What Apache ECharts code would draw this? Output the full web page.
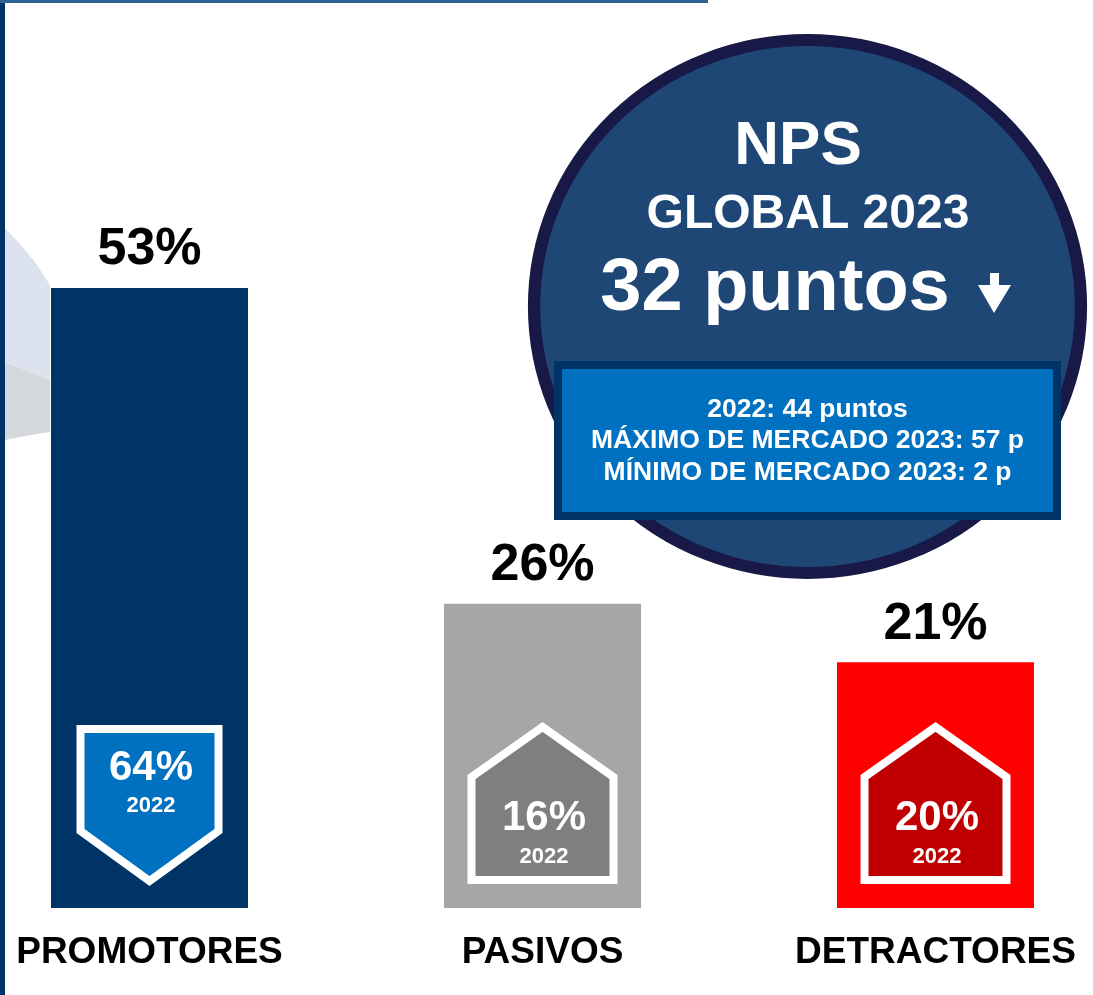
<!DOCTYPE html>
<html>
<head>
<meta charset="utf-8">
<script src="https://cdn.jsdelivr.net/npm/echarts@6/dist/echarts.min.js"></script>
<style>
  html, body { margin: 0; padding: 0; background: #ffffff; }
  #chart { width: 1093px; height: 995px; }
</style>
</head>
<body>
<div id="chart"></div>
<script>
// datos de la lámina NPS
const categories = ['PROMOTORES', 'PASIVOS', 'DETRACTORES'];
const values2023 = [53, 26, 21];
const values2022 = [64, 16, 20];
const prevYear = '2022';

const npsTitle = 'NPS';
const npsSubtitle = 'GLOBAL 2023';
const npsScore = '32 puntos';
const npsNotes = [
    '2022: 44 puntos',
    'MÁXIMO DE MERCADO 2023: 57 p',
    'MÍNIMO DE MERCADO 2023: 2 p'
];

const barColors = ['#003366', '#A6A6A6', '#FF0000'];
const badgeColors = ['#0070C0', '#7F7F7F', '#C00000'];
const FONT = '"Liberation Sans", Arial, sans-serif';

const chart = echarts.init(document.getElementById('chart'));

function txt(text, x, y, size, color) {
    return {
        type: 'text',
        x: x,
        y: y,
        style: {
            text: text,
            fill: color || '#ffffff',
            font: 'bold ' + size + 'px ' + FONT,
            align: 'center',
            verticalAlign: 'middle',
            textAlign: 'center',
            textVerticalAlign: 'middle'
        }
    };
}

chart.setOption({
    animation: false,
    grid: { left: 149.5, right: 157.5, top: 206, bottom: 87 },
    xAxis: {
        type: 'category',
        data: categories,
        boundaryGap: false,
        axisLine: { show: false },
        axisTick: { show: false },
        splitLine: { show: false },
        axisLabel: {
            margin: 26,
            color: '#000000',
            fontFamily: FONT,
            fontWeight: 'bold',
            fontSize: 37
        }
    },
    yAxis: { type: 'value', min: 0, max: 60, show: false },
    graphic: [
        // borde izquierdo y línea superior
        { type: 'rect', shape: { x: 0, y: 0, width: 5, height: 995 }, style: { fill: '#003366' } },
        { type: 'rect', shape: { x: 0, y: 0, width: 708, height: 3 }, style: { fill: '#2E6395' } },
        // fondo decorativo
        { type: 'polygon', shape: { points: [[5, 228], [20, 244], [35, 262], [50, 285], [50, 380], [5, 362]] }, style: { fill: '#DCE3EE' } },
        { type: 'polygon', shape: { points: [[5, 362], [50, 380], [50, 432], [25, 436], [5, 440]] }, style: { fill: '#D4D7DC' } },
        // círculo NPS
        {
            type: 'circle', x: 807.5, y: 306.5, scaleX: 1.026,
            shape: { cx: 0, cy: 0, r: 266.5 },
            style: { fill: '#1E4776', stroke: '#191947', lineWidth: 12 }
        },
        txt(npsTitle, 798, 147, 62),
        txt(npsSubtitle, 808, 215, 48),
        txt(npsScore, 775, 290, 74),
        {
            type: 'polygon',
            shape: { points: [[990, 273], [999, 273], [999, 285], [1011, 285], [994, 313], [978, 285], [990, 285]] },
            style: { fill: '#ffffff' }
        },
        {
            type: 'rect', shape: { x: 558, y: 365, width: 499, height: 151 },
            style: { fill: '#0070C0', stroke: '#003366', lineWidth: 8 }
        },
        txt(npsNotes[0], 807.5, 409.5, 26.5),
        txt(npsNotes[1], 807.5, 441, 26.5),
        txt(npsNotes[2], 807.5, 473, 26.5)
    ],
    series: [
        {
            type: 'bar',
            barWidth: 197,
            data: values2023.map(function (v, i) {
                return { value: v, itemStyle: { color: barColors[i] } };
            }),
            label: {
                show: true,
                position: 'top',
                distance: 12,
                formatter: '{c}%',
                color: '#000000',
                fontFamily: FONT,
                fontWeight: 'bold',
                fontSize: 52
            }
        },
        {
            type: 'custom',
            z: 5,
            data: values2022.map(function (v, i) { return [i, v, values2023[i]]; }),
            encode: { x: 0 },
            renderItem: function (params, api) {
                const i = api.value(0);
                const prev = api.value(1);
                const cur = api.value(2);
                const base = api.coord([i, 0]);
                const cx = base[0], by = base[1];
                let pts, t1, t2;
                if (cur < prev) {
                    pts = [[cx - 69, by - 179], [cx + 69, by - 179], [cx + 69, by - 77], [cx, by - 27], [cx - 69, by - 77]];
                    t1 = by - 140; t2 = by - 102;
                } else {
                    pts = [[cx - 71, by - 28], [cx - 71, by - 131], [cx, by - 181], [cx + 71, by - 131], [cx + 71, by - 28]];
                    t1 = by - 90; t2 = by - 51;
                }
                return {
                    type: 'group',
                    children: [
                        {
                            type: 'polygon',
                            shape: { points: pts },
                            style: { fill: badgeColors[i], stroke: '#ffffff', lineWidth: 8, lineJoin: 'miter' }
                        },
                        txt(prev + '%', cx + 1.5, t1, 42),
                        txt(prevYear, cx + 1.5, t2, 22)
                    ]
                };
            }
        }
    ]
});
</script>
</body>
</html>
